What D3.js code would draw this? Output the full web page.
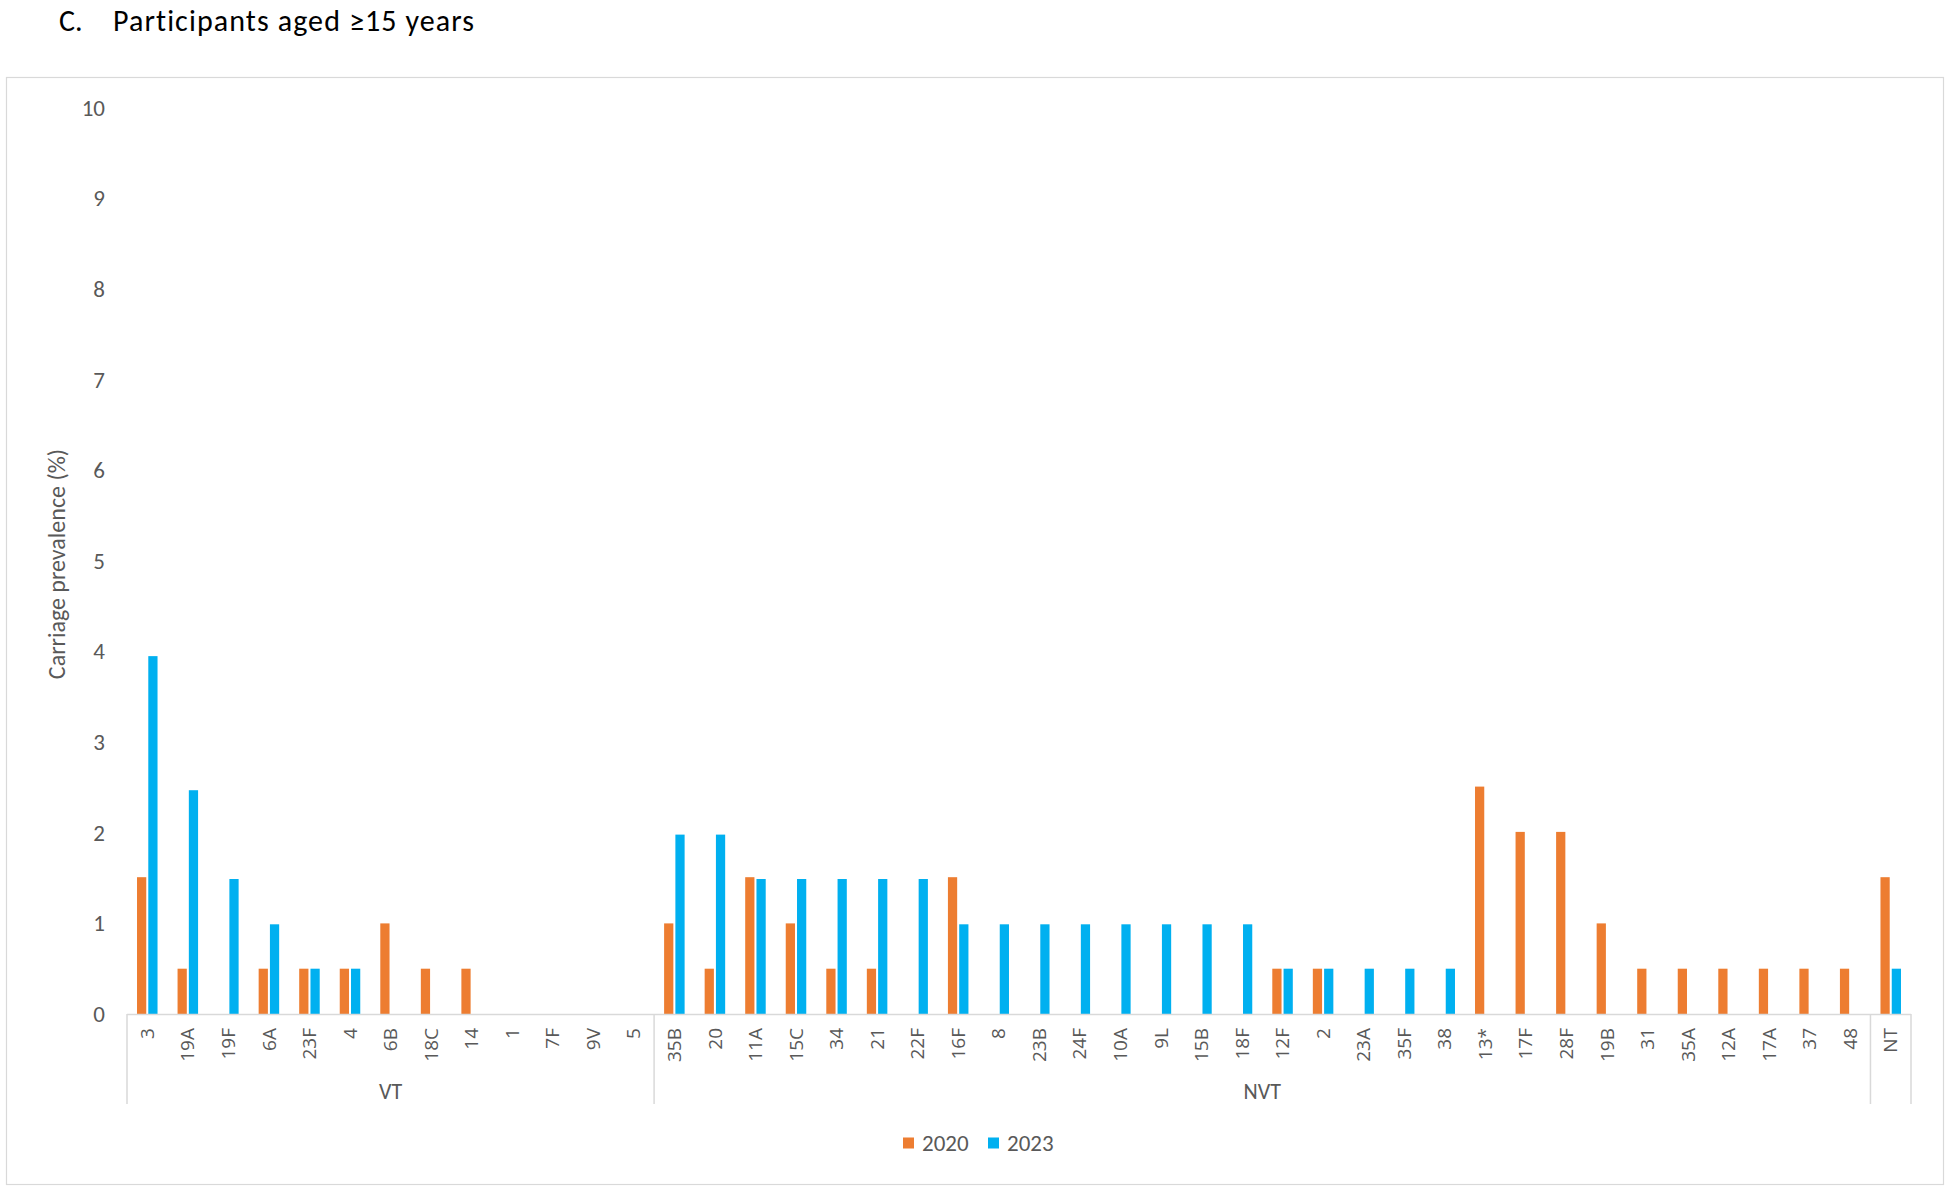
<!DOCTYPE html>
<html>
<head>
<meta charset="utf-8">
<script src="https://cdn.jsdelivr.net/npm/d3@7"></script>
<style>
  body { margin: 0; background: #fff; }
  text { font-family: Carlito, Lato, sans-serif; }
</style>
</head>
<body>
<div id="chart"></div>
<script>
// serotypes, grouped VT / NVT / NT
const vtSerotypes = ["3", "19A", "19F", "6A", "23F", "4", "6B", "18C", "14", "1", "7F", "9V", "5"];
const nvtSerotypes = ["35B", "20", "11A", "15C", "34", "21", "22F", "16F", "8", "23B", "24F", "10A", "9L", "15B", "18F",
    "12F", "2", "23A", "35F", "38", "13*", "17F", "28F", "19B", "31", "35A", "12A", "17A", "37", "48"];
const ntSerotypes = ["NT"];
const groupNames = ["VT", "NVT", ""];

const years = ["2020", "2023"];
const values2020 = [1.51, 0.5, 0, 0.5, 0.5, 0.5, 1.0, 0.5, 0.5, 0, 0, 0, 0,
    1.0, 0.5, 1.51, 1.0, 0.5, 0.5, 0, 1.51, 0, 0, 0, 0, 0, 0, 0, 0.5, 0.5, 0, 0, 0,
    2.51, 2.01, 2.01, 1.0, 0.5, 0.5, 0.5, 0.5, 0.5, 0.5,
    1.51];
const values2023 = [3.95, 2.47, 1.49, 0.99, 0.5, 0.5, 0, 0, 0, 0, 0, 0, 0,
    1.98, 1.98, 1.49, 1.49, 1.49, 1.49, 1.49, 0.99, 0.99, 0.99, 0.99, 0.99, 0.99, 0.99, 0.99, 0.5, 0.5, 0.5, 0.5, 0.5,
    0, 0, 0, 0, 0, 0, 0, 0, 0, 0,
    0.5];
const yTicks = [0, 1, 2, 3, 4, 5, 6, 7, 8, 9, 10];
const colors = ["#ED7D31", "#00B0F0"];

const W = 1950, H = 1190;
const margin = {top: 108, right: 39, bottom: 176, left: 127};

const svg = d3.select("#chart")
    .append("svg")
        .attr("width", W)
        .attr("height", H);

svg.append("rect")
    .attr("width", W).attr("height", H)
    .attr("fill", "#fff");

// outer frame
svg.append("rect")
    .attr("x", 6.5).attr("y", 77.5)
    .attr("width", 1937).attr("height", 1107)
    .attr("fill", "none")
    .attr("stroke", "#d9d9d9")
    .attr("stroke-width", 1.2);

// title
svg.append("text")
    .attr("x", 59).attr("y", 31)
    .style("font-size", "30px")
    .style("fill", "#000")
    .text("C.");
svg.append("text")
    .attr("x", 113).attr("y", 31)
    .style("font-size", "30px")
    .style("letter-spacing", "1.1px")
    .style("fill", "#000")
    .text("Participants aged ≥15 years");

const groups = [vtSerotypes, nvtSerotypes, ntSerotypes];
const categories = [].concat(...groups);
const rows = categories.map((c, i) => ({cat: c, v2020: values2020[i], v2023: values2023[i]}));

const x = d3.scaleBand()
    .domain(categories)
    .range([margin.left, W - margin.right])
    .padding(0);

const bw = x.bandwidth();
const x1 = d3.scaleBand()
    .domain(years)
    .range([bw * 0.247, bw * 0.753])
    .paddingInner(0.18);

const y = d3.scaleLinear()
    .domain([0, 10])
    .range([H - margin.bottom, margin.top]);

const g = svg.append("g");

// y axis labels
const yAxis = g.append("g")
    .attr("transform", "translate(" + margin.left + ",0)")
    .call(d3.axisLeft(y).tickValues(yTicks).tickSize(0).tickPadding(22).tickFormat(d3.format("d")));
yAxis.select(".domain").remove();
yAxis.selectAll("text")
    .style("font-size", "23px")
    .style("fill", "#595959")
    .style("font-family", "Carlito, Lato, sans-serif");

svg.append("text")
    .attr("transform", "translate(57," + 564 + ") rotate(-90)")
    .attr("dy", "0.35em")
    .style("text-anchor", "middle")
    .style("font-size", "24px")
    .style("fill", "#595959")
    .text("Carriage prevalence (%)");

// bars
const series = years.map((yr, k) => ({
    year: yr,
    values: rows.map(r => ({cat: r.cat, value: k === 0 ? r.v2020 : r.v2023}))
}));

g.selectAll(".bars")
    .data(series)
    .join("g")
        .attr("class", "bars")
        .attr("fill", (d, i) => colors[i])
    .selectAll("rect")
    .data(d => d.values.filter(v => v.value > 0).map(v => ({...v, year: d.year})))
    .join("rect")
        .attr("x", d => x(d.cat) + x1(d.year))
        .attr("y", d => y(d.value))
        .attr("width", x1.bandwidth())
        .attr("height", d => y(0) - y(d.value));

// x axis
const x0 = y(0);
g.append("line")
    .attr("x1", margin.left).attr("x2", W - margin.right)
    .attr("y1", x0 + 0.5).attr("y2", x0 + 0.5)
    .attr("stroke", "#d9d9d9")
    .attr("stroke-width", 1.5);

const xAxis = g.append("g")
    .attr("transform", "translate(0," + x0 + ")")
    .call(d3.axisBottom(x).tickSize(0));
xAxis.select(".domain").remove();
xAxis.selectAll("text")
    .attr("x", -14)
    .attr("y", 0)
    .attr("dy", "0.35em")
    .attr("transform", "rotate(-90)")
    .style("text-anchor", "end")
    .style("font-size", "19px")
    .style("fill", "#595959")
    .style("font-family", "'Open Sans', sans-serif");

// group boxes
let start = 0;
const groupSpans = groups.map((grp, i) => {
    const s = {name: groupNames[i], first: categories[start], last: categories[start + grp.length - 1]};
    start += grp.length;
    return s;
});
const bounds = [x(categories[0])].concat(groupSpans.map(s => x(s.last) + bw));

g.selectAll(".group-line")
    .data(bounds)
    .join("line")
        .attr("class", "group-line")
        .attr("x1", d => d).attr("x2", d => d)
        .attr("y1", x0).attr("y2", x0 + 90)
        .attr("stroke", "#d9d9d9")
        .attr("stroke-width", 1.5);

g.selectAll(".group-name")
    .data(groupSpans)
    .join("text")
        .attr("class", "group-name")
        .attr("x", d => (x(d.first) + x(d.last) + bw) / 2)
        .attr("y", x0 + 77)
        .attr("dy", "0.35em")
        .style("text-anchor", "middle")
        .style("font-size", "22px")
        .style("fill", "#595959")
        .text(d => d.name);

// legend
const legend = svg.append("g")
    .attr("transform", "translate(903,1143)");
const item = legend.selectAll(".legend-item")
    .data(years)
    .join("g")
        .attr("class", "legend-item")
        .attr("transform", (d, i) => "translate(" + i * 85 + ",0)");
item.append("rect")
    .attr("x", 0).attr("y", -5.5)
    .attr("width", 11).attr("height", 11)
    .attr("fill", (d, i) => colors[i]);
item.append("text")
    .attr("x", 19)
    .attr("dy", "0.35em")
    .style("font-size", "23px")
    .style("fill", "#595959")
    .text(d => d);
</script>
</body>
</html>
